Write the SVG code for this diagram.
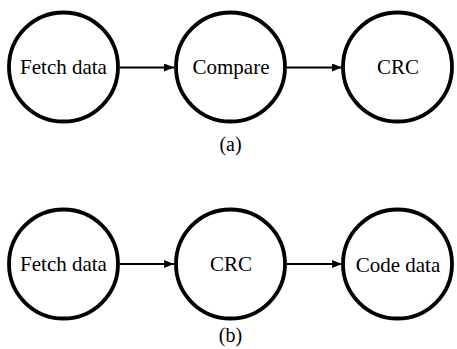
<svg xmlns="http://www.w3.org/2000/svg" width="457" height="349" viewBox="0 0 457 349">
  <style>
    .node circle { fill: #fff; stroke: #000; stroke-width: 3.8; }
    text { font-family: 'Liberation Serif', 'Times New Roman', Times, serif; fill: #000; text-anchor: middle; }
    .edge { stroke: #000; stroke-width: 1.8; fill: none; marker-end: url(#arrow); }
  </style>
  <defs>
    <marker id="arrow" viewBox="0 0 10 8" refX="10" refY="4" markerWidth="10" markerHeight="8" markerUnits="userSpaceOnUse" orient="auto">
      <path d="M0,0 L10,4 L0,8 Z" fill="#000"/>
    </marker>
  </defs>
  <rect width="457" height="349" fill="#fff"/>

  <!-- row (a) -->
  <g id="a-fetch" class="node" font-family="Liberation Serif, serif" font-size="21"><circle cx="63.5" cy="67" r="54.5"/><text x="63.5" y="74">Fetch data</text></g>
  <g id="a-compare" class="node" font-family="Liberation Serif, serif" font-size="21"><circle cx="230.5" cy="67" r="54.5"/><text x="231" y="74">Compare</text></g>
  <g id="a-crc" class="node" font-family="Liberation Serif, serif" font-size="21"><circle cx="397.5" cy="67" r="54.5"/><text x="398" y="74">CRC</text></g>

  <!-- row (b) -->
  <g id="b-fetch" class="node" font-family="Liberation Serif, serif" font-size="21"><circle cx="63.5" cy="264" r="54.5"/><text x="63.5" y="271">Fetch data</text></g>
  <g id="b-crc" class="node" font-family="Liberation Serif, serif" font-size="21"><circle cx="230.5" cy="264" r="54.5"/><text x="231" y="271">CRC</text></g>
  <g id="b-code" class="node" font-family="Liberation Serif, serif" font-size="21"><circle cx="397.5" cy="264" r="54.5"/><text x="398" y="272">Code data</text></g>

  <g id="connectors">
    <line class="edge" x1="120" y1="67.5" x2="174" y2="67.5"/>
    <line class="edge" x1="287" y1="67.5" x2="342" y2="67.5"/>
    <line class="edge" x1="120" y1="264" x2="174" y2="264"/>
    <line class="edge" x1="287" y1="264" x2="342" y2="264"/>
  </g>

  <g font-family="Liberation Serif, serif" font-size="20">
    <text x="230.5" y="151">(a)</text>
    <text x="230.5" y="342">(b)</text>
  </g>
</svg>
